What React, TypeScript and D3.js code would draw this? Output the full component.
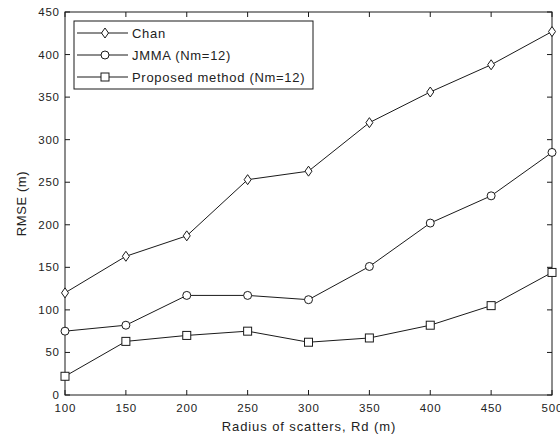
import React from "react";
import * as d3 from "d3";

const radius = [100, 150, 200, 250, 300, 350, 400, 450, 500];
const chan = [120, 163, 187, 253, 263, 320, 356, 388, 427];
const jmma = [75, 82, 117, 117, 112, 151, 202, 234, 285];
const proposed = [22, 63, 70, 75, 62, 67, 82, 105, 144];
const xTicks = [100, 150, 200, 250, 300, 350, 400, 450, 500];
const yTicks = [0, 50, 100, 150, 200, 250, 300, 350, 400, 450];
const seriesNames = ["Chan", "JMMA (Nm=12)", "Proposed method (Nm=12)"];
const markerTypes = ["diamond", "circle", "square"];

const W = 560, H = 436;
const L = 65, R = 552, T = 12, B = 395;
const font = "'Liberation Sans', Arial, sans-serif";
const ink = "#1a1a1a";

function Marker({ type, x, y }: { type: string; x: number; y: number }) {
  if (type === "diamond") {
    return <path d={`M${x},${y - 5} L${x + 3.5},${y} L${x},${y + 5} L${x - 3.5},${y} Z`} fill="white" stroke={ink} strokeWidth={1} />;
  }
  if (type === "circle") {
    return <circle cx={x} cy={y} r={4} fill="white" stroke={ink} strokeWidth={1} />;
  }
  return <rect x={x - 4} y={y - 4} width={8} height={8} fill="white" stroke={ink} strokeWidth={1} />;
}

export default function App() {
  const x = d3.scaleLinear().domain([100, 500]).range([L, R]);
  const y = d3.scaleLinear().domain([0, 450]).range([B, T]);
  const line = d3.line<number>().x((_, i) => x(radius[i])).y((d) => y(d));
  const all = [chan, jmma, proposed];

  const legX = 74, legY = 21, legW = 239, legH = 68;

  return (
    <svg width={W} height={H} style={{ position: "absolute", left: 0, top: 0 }} fontFamily={font}>
      <rect x={0} y={0} width={W} height={H} fill="white" />
      {xTicks.map((t) => (
        <g key={"x" + t}>
          <line x1={x(t)} x2={x(t)} y1={B} y2={B - 5} stroke={ink} />
          <line x1={x(t)} x2={x(t)} y1={T} y2={T + 5} stroke={ink} />
          <text x={x(t)} dx={0.4} y={B + 17} fontSize={11.5} letterSpacing={0.8} textAnchor="middle" fill="#222">{t}</text>
        </g>
      ))}
      {yTicks.map((t) => (
        <g key={"y" + t}>
          <line x1={L} x2={L + 5} y1={y(t)} y2={y(t)} stroke={ink} />
          <line x1={R} x2={R - 5} y1={y(t)} y2={y(t)} stroke={ink} />
          <text x={L - 6} dx={0.8} y={y(t) + 4} fontSize={11.5} letterSpacing={0.8} textAnchor="end" fill="#222">{t}</text>
        </g>
      ))}
      <rect x={L} y={T} width={R - L} height={B - T} fill="none" stroke={ink} strokeWidth={1} />
      {all.map((s, si) => (
        <g key={"s" + si}>
          <path d={line(s) || ""} fill="none" stroke={ink} strokeWidth={1} />
          {s.map((v, i) => (
            <Marker key={i} type={markerTypes[si]} x={x(radius[i])} y={y(v)} />
          ))}
        </g>
      ))}
      <rect x={legX} y={legY} width={legW} height={legH} fill="white" stroke={ink} strokeWidth={1} />
      {seriesNames.map((n, i) => {
        const ly = legY + 12 + i * 22;
        return (
          <g key={"l" + i}>
            <line x1={legX + 3} x2={legX + 54} y1={ly} y2={ly} stroke={ink} />
            <Marker type={markerTypes[i]} x={legX + 31} y={ly} />
            <text x={legX + 58} y={ly + 5} fontSize={13} letterSpacing={0.7} fill="#222">{n}</text>
          </g>
        );
      })}
      <text x={(L + R) / 2} dx={0.45} y={431} fontSize={13} letterSpacing={0.9} textAnchor="middle" fill="#222">Radius of scatters, Rd (m)</text>
      <text transform={`translate(26,${(T + B) / 2}) rotate(-90)`} fontSize={13} letterSpacing={0.6} textAnchor="middle" fill="#222">RMSE (m)</text>
    </svg>
  );
}
